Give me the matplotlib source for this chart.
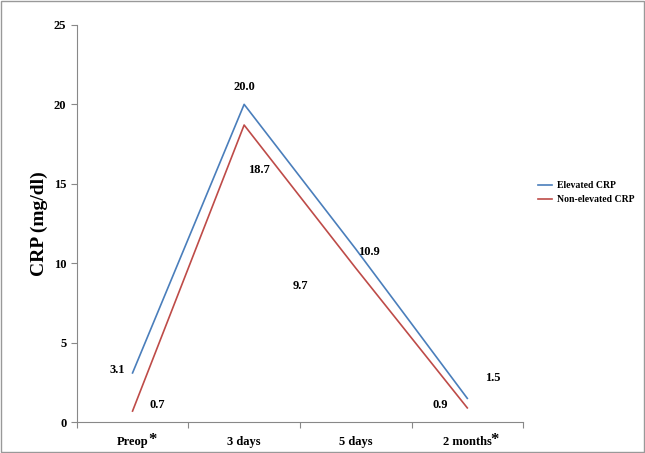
import matplotlib
matplotlib.use("Agg")
import matplotlib.pyplot as plt

categories = ["Preop", "3 days", "5 days", "2 months"]
star = [True, False, False, True]
elevated = [3.1, 20.0, 10.9, 1.5]
nonelevated = [0.7, 18.7, 9.7, 0.9]

plt.rcParams['font.family'] = ['Liberation Serif', 'DejaVu Serif']
fig = plt.figure(figsize=(6.45, 4.53), dpi=100)
fig.patches.append(plt.Rectangle((0.002, 0.002), 0.996, 0.996, transform=fig.transFigure,
                                 fill=False, edgecolor='#999999', lw=1))
ax = fig.add_axes([0.119, 0.068, 0.692, 0.877])
x = list(range(len(categories)))
ax.plot(x, elevated, color='#4a7ebb', lw=1.2, label='Elevated CRP')
ax.plot(x, nonelevated, color='#be4b48', lw=1.2, label='Non-elevated CRP')
ax.set_xlim(-0.5, 3.5)
ax.set_ylim(0, 25)
ax.set_yticks([0, 5, 10, 15, 20, 25])
ax.set_xticks([i - 0.5 for i in range(5)])
ax.set_xticklabels([])
ax.tick_params(axis='x', length=4, color='#888888')
ax.tick_params(axis='y', length=4, color='#888888', labelsize=9)
for lab in ax.get_yticklabels():
    lab.set_fontweight('bold')
for i, c in enumerate(categories):
    ax.text(i, -0.9, c, ha='center', va='top', fontsize=9, fontweight='bold')
    if star[i]:
        w = {0: 0.14, 3: 0.21}[i]
        ax.text(i + w, -0.6, '*', ha='left', va='top', fontsize=12, fontweight='bold')
for s in ['top', 'right']:
    ax.spines[s].set_visible(False)
for s in ['left', 'bottom']:
    ax.spines[s].set_color('#888888')
ax.set_ylabel('CRP (mg/dl)', fontsize=14, fontweight='bold')
offs_e = [(-0.14, 0.2), (0, 1.1), (0.12, -0.2), (0.23, 1.3)]
offs_n = [(0.22, 0.37), (0.13, -2.85), (-0.5, -1.15), (-0.24, 0.17)]
for i in x:
    ax.text(i + offs_e[i][0], elevated[i] + offs_e[i][1], f"{elevated[i]:.1f}",
            ha='center', va='center', fontsize=9, fontweight='bold')
    ax.text(i + offs_n[i][0], nonelevated[i] + offs_n[i][1], f"{nonelevated[i]:.1f}",
            ha='center', va='center', fontsize=9, fontweight='bold')
fig.legend(loc='center left', bbox_to_anchor=(0.82, 0.575), frameon=False,
           prop={'weight': 'bold', 'size': 7}, handlelength=1.5, handletextpad=0.5)
fig.savefig('out.png', dpi=100)
